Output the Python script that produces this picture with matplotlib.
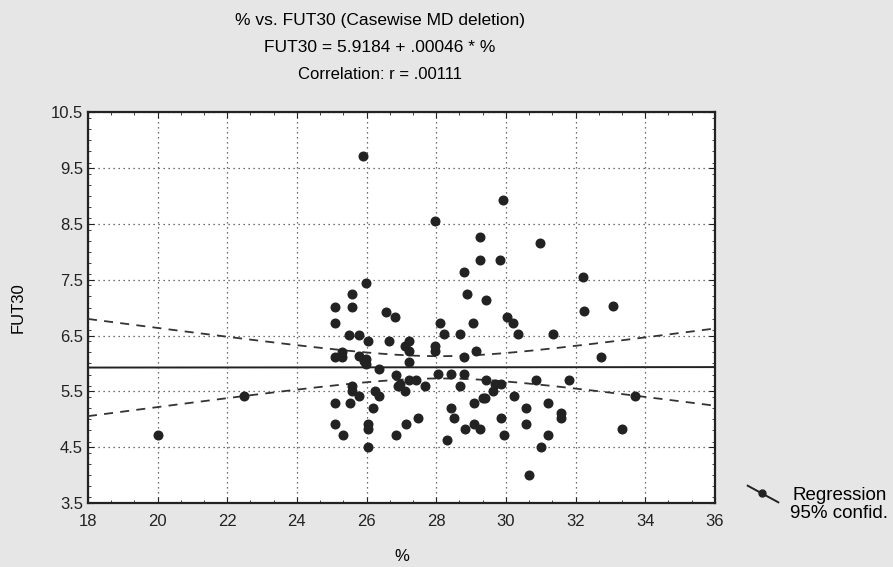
import matplotlib.pyplot as plt
from matplotlib.lines import Line2D
from matplotlib.ticker import MultipleLocator
import numpy as np

pct = [25.90, 25.97, 25.58, 25.10, 25.58, 26.55, 26.81, 25.10, 25.50, 25.79,
       26.05, 26.65, 25.29, 25.10, 25.29, 25.79, 25.97, 25.97, 26.36, 26.84,
       26.90, 25.58, 25.58, 25.79, 26.24, 26.36, 22.49, 25.10, 25.52, 26.19,
       25.10, 26.05, 26.05, 25.31, 26.84, 26.05, 20.02, 25.93,
       29.92, 27.97, 29.25, 30.99, 29.25, 29.84, 28.79, 32.21, 28.87, 29.44,
       32.23, 33.07, 28.10, 29.06, 30.04, 30.20, 30.36, 31.35, 28.22, 28.67,
       27.10, 27.22, 27.22, 27.22, 27.96, 27.96, 28.79, 29.15, 32.74, 26.95,
       27.10, 27.22, 27.41, 27.67, 28.05, 28.41, 28.79, 28.67, 29.44, 29.68,
       29.87, 29.63, 29.39, 30.87, 31.81, 30.22, 29.08, 31.22, 33.72, 28.41,
       28.50, 30.57, 31.59, 31.59, 29.87, 30.57, 27.48, 27.12, 28.82, 29.08,
       29.25, 29.94, 31.22, 28.31, 31.01, 33.32, 30.66, 29.34]
fut30 = [9.72, 7.44, 7.24, 7.02, 7.02, 6.93, 6.84, 6.72, 6.51, 6.51,
         6.41, 6.41, 6.20, 6.11, 6.11, 6.14, 6.08, 5.99, 5.90, 5.80,
         5.60, 5.60, 5.51, 5.41, 5.51, 5.41, 5.41, 5.29, 5.29, 5.20,
         4.92, 4.92, 4.83, 4.72, 4.72, 4.51, 4.72, 6.05,
         8.93, 8.55, 8.26, 8.15, 7.85, 7.85, 7.64, 7.55, 7.24, 7.13,
         6.94, 7.03, 6.72, 6.72, 6.83, 6.72, 6.52, 6.52, 6.52, 6.52,
         6.32, 6.41, 6.23, 6.02, 6.32, 6.23, 6.11, 6.23, 6.11, 5.63,
         5.51, 5.71, 5.71, 5.60, 5.81, 5.81, 5.81, 5.60, 5.71, 5.63,
         5.63, 5.51, 5.39, 5.71, 5.71, 5.41, 5.30, 5.30, 5.41, 5.20,
         5.02, 5.20, 5.12, 5.02, 5.02, 4.92, 5.02, 4.92, 4.83, 4.92,
         4.83, 4.72, 4.72, 4.62, 4.51, 4.83, 4.01, 5.39]

intercept = 5.9184
slope = 0.00046

x = np.array(pct)
y = np.array(fut30)
n = len(x)
xs = np.linspace(18, 36, 200)
fit = intercept + slope * xs
resid = y - (intercept + slope * x)
s = np.sqrt(np.sum(resid ** 2) / (n - 2))
sxx = np.sum((x - x.mean()) ** 2)
half = 1.984 * s * np.sqrt(1 / n + (xs - x.mean()) ** 2 / sxx)

plt.rcParams['font.family'] = ['Liberation Sans', 'DejaVu Sans']

fig = plt.figure(figsize=(8.93, 5.67), dpi=100, facecolor='#e6e6e6')
ax = fig.add_axes([0.0985, 0.1129, 0.702, 0.689])
ax.set_facecolor('white')

ax.plot(xs, fit, color='#222222', lw=1.4, zorder=3)
ax.plot(xs, fit + half, color='#333333', lw=1.3, ls=(0, (5, 4)), zorder=3)
ax.plot(xs, fit - half, color='#333333', lw=1.3, ls=(0, (5, 4)), zorder=3)
ax.plot(x, y, 'o', color='#222222', ms=6.2, zorder=4)

ax.set_xlim(18, 36)
ax.set_ylim(3.5, 10.5)
ax.xaxis.set_major_locator(MultipleLocator(2))
ax.xaxis.set_minor_locator(MultipleLocator(2 / 3))
ax.yaxis.set_minor_locator(MultipleLocator(0.2))
ax.set_yticks(np.arange(3.5, 10.6, 1.0))
ax.set_yticklabels(['3.5', '4.5', '5.5', '6.5', '7.5', '8.5', '9.5', '10.5'])
ax.tick_params(which='both', direction='in', top=True, right=True, colors='#222222',
               labelsize=12)
ax.tick_params(axis='x', which='major', pad=8)
ax.tick_params(which='major', length=4)
ax.tick_params(which='minor', length=2.5)
ax.grid(True, which='major', color='#444444', ls=(0, (1, 3)), lw=0.9)
for sp in ax.spines.values():
    sp.set_linewidth(1.6)
    sp.set_color('#222222')

ax.set_xlabel('%', fontsize=12, labelpad=14)
ax.set_ylabel('FUT30', fontsize=12, labelpad=18)

fig.text(0.425, 0.964, '% vs. FUT30 (Casewise MD deletion)', ha='center', va='center', fontsize=12.5)
fig.text(0.425, 0.917, 'FUT30 = 5.9184 + .00046 * %', ha='center', va='center', fontsize=12.5)
fig.text(0.425, 0.868, 'Correlation: r = .00111', ha='center', va='center', fontsize=12)

# legend glyph
fig.add_artist(Line2D([747.7 / 893, 778.3 / 893], [1 - 485.7 / 567, 1 - 502.3 / 567],
                      color='#222222', lw=1.4))
fig.add_artist(Line2D([761.7 / 893], [1 - 492.7 / 567], marker='o', ms=5,
                      color='#222222'))
fig.text(792 / 893, 1 - 496 / 567, 'Regression', ha='left', va='center', fontsize=13.5)
fig.text(790 / 893, 1 - 513 / 567, '95% confid.', ha='left', va='center', fontsize=13.5)

fig.savefig('out.png', dpi=100, facecolor=fig.get_facecolor())
